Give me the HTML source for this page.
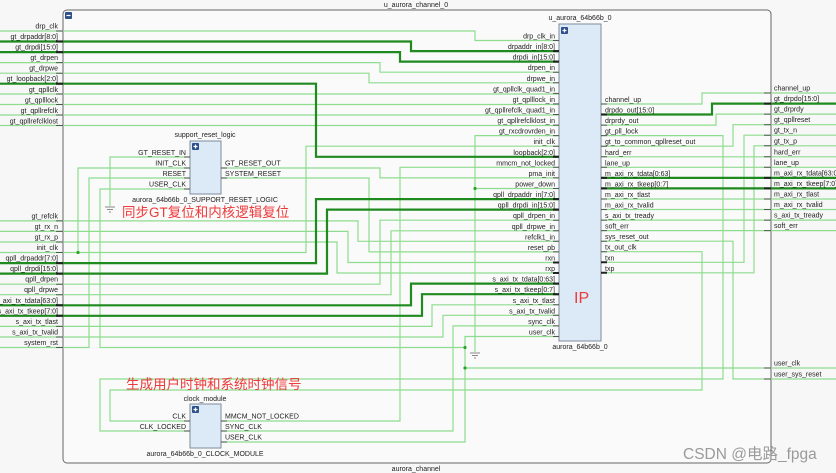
<!DOCTYPE html>
<html><head><meta charset="utf-8"><style>
html,body{margin:0;padding:0;background:#f7f7f7;}
svg{display:block;}
text{font-family:"Liberation Sans","Noto Sans CJK SC",sans-serif;font-size:7px;fill:#222;}
.e{text-anchor:end;}
.m{text-anchor:middle;}
.w{fill:none;stroke:#8edc8e;stroke-width:1.2;}
.b{fill:none;stroke:#1f8a1f;stroke-width:2.2;}
.t{stroke:#555;stroke-width:1;}
.tb{stroke:#222;stroke-width:2;}
.red{font-size:13.5px;fill:#ee3a3a;}
</style></head><body>
<svg width="836" height="473" viewBox="0 0 836 473" xmlns="http://www.w3.org/2000/svg">
<rect x="0" y="0" width="836" height="473" fill="#f7f7f7"/>
<rect x="63" y="10" width="708" height="453" rx="4" fill="#fafafa" stroke="#666" stroke-width="1"/>
<text x="416" y="7" class="m">u_aurora_channel_0</text>
<text x="416" y="471" class="m">aurora_channel</text>
<rect x="65" y="12" width="7" height="7" rx="1" fill="#2d4f8a"/>
<line x1="66.5" y1="15.5" x2="70.5" y2="15.5" stroke="#fff" stroke-width="1.2"/>

<path class="w" d="M0 31H475V40.5H559"/>
<path class="w" d="M0 62.6H380V72.2H559"/>
<path class="w" d="M0 73.2H369V82.8H559"/>
<path class="w" d="M0 94H559M0 104.5H559M0 115H559M0 125.5H559"/>
<path class="w" d="M559 135.6H475V352M475 188.5H559"/>
<path class="w" d="M0 252.5H306V146.2H559"/>
<path class="w" d="M190 168H78V252.5"/>
<path class="w" d="M190 157H110V206"/>
<path class="w" d="M190 178H89V347.5H0"/>
<path class="w" d="M190 189H100V347.5H465"/>
<path class="w" d="M221 168H380V177.9H559"/>
<path class="w" d="M221 178H369V251.9H559"/>
<path class="w" d="M559 167.3H400V421H221"/>
<path class="w" d="M0 220.9H358V241.3H559"/>
<path class="w" d="M0 231.4H348V262.5H559"/>
<path class="w" d="M0 242H337V273H559"/>
<path class="w" d="M0 284.2H380V220.2H559"/>
<path class="w" d="M0 294.7H391V230.8H559"/>
<path class="w" d="M0 326.4H432V304.8H559"/>
<path class="w" d="M0 337H443V315.3H559"/>
<path class="w" d="M559 325.9H453V431H221"/>
<path class="w" d="M559 336.5H465V442H221M465 368H836"/>
<path class="w" d="M190 421H110V390H702V251.7H601"/>
<path class="w" d="M190 431H100V379H723V135.6H601"/>
<path class="w" d="M601 241.2H733V379H836"/>
<path class="w" d="M601 104H702V93H836"/>
<path class="w" d="M601 125.1H716V114.1H836"/>
<path class="w" d="M601 146.2H733V124.7H836"/>
<path class="w" d="M601 262.3H744V135.2H836"/>
<path class="w" d="M601 272.8H754V145.8H836"/>
<path class="w" d="M601 156.8H836M601 167.3H836M601 199H836M601 209.5H836M601 220.1H836M601 230.6H836"/>
<path class="b" d="M0 41.5H411V51.1H559"/>
<path class="b" d="M0 52.1H400V61.6H559"/>
<path class="b" d="M0 83.7H316V156.8H559"/>
<path class="b" d="M0 263.1H316V199.1H559"/>
<path class="b" d="M0 273.6H327V209.6H559"/>
<path class="b" d="M0 305.3H411V283.6H559"/>
<path class="b" d="M0 315.8H422V294.2H559"/>
<path class="b" d="M601 114.5H712V103.6H836"/>
<path class="b" d="M601 177.9H836M601 188.4H836"/>
<g fill="#2aa52a"><circle cx="78" cy="252.5" r="1.6"/><circle cx="475" cy="188.5" r="1.6"/><circle cx="465" cy="347.5" r="1.6"/><circle cx="465" cy="368" r="1.6"/></g>
<g stroke="#888" stroke-width="1"><line x1="105" y1="207" x2="115" y2="207"/><line x1="107" y1="209.5" x2="113" y2="209.5"/><line x1="109" y1="212" x2="111" y2="212"/>
<line x1="470" y1="353" x2="480" y2="353"/><line x1="472" y1="355.5" x2="478" y2="355.5"/><line x1="474" y1="358" x2="476" y2="358"/></g>

<g class="t"><path d="M56 31H63M56 62.6H63M56 73.2H63M56 94H63M56 104.5H63M56 115H63M56 125.5H63M56 220.9H63M56 231.4H63M56 242H63M56 252.5H63M56 284.2H63M56 294.7H63M56 326.4H63M56 337H63M56 347.5H63"/></g>
<g class="tb"><path d="M56 41.5H63M56 52.1H63M56 83.7H63M56 263.1H63M56 273.6H63M56 305.3H63M56 315.8H63"/></g>
<g class="t"><path d="M764 93H771M764 114.1H771M764 124.7H771M764 135.2H771M764 145.8H771M764 156.8H771M764 167.3H771M764 199H771M764 209.5H771M764 220.1H771M764 230.6H771M764 368H771M764 379H771"/></g>
<g class="tb"><path d="M764 103.6H771M764 177.9H771M764 188.4H771"/></g>

<text x="58" y="28.5" class="e">drp_clk</text>
<text x="58" y="39" class="e">gt_drpaddr[8:0]</text>
<text x="58" y="49.6" class="e">gt_drpdi[15:0]</text>
<text x="58" y="60.1" class="e">gt_drpen</text>
<text x="58" y="70.7" class="e">gt_drpwe</text>
<text x="58" y="81.2" class="e">gt_loopback[2:0]</text>
<text x="58" y="91.8" class="e">gt_qpllclk</text>
<text x="58" y="102.3" class="e">gt_qplllock</text>
<text x="58" y="112.9" class="e">gt_qpllrefclk</text>
<text x="58" y="123.5" class="e">gt_qpllrefclklost</text>
<text x="58" y="218.4" class="e">gt_refclk</text>
<text x="58" y="228.9" class="e">gt_rx_n</text>
<text x="58" y="239.5" class="e">gt_rx_p</text>
<text x="58" y="250" class="e">init_clk</text>
<text x="58" y="260.6" class="e">qpll_drpaddr[7:0]</text>
<text x="58" y="271.1" class="e">qpll_drpdi[15:0]</text>
<text x="58" y="281.7" class="e">qpll_drpen</text>
<text x="58" y="292.2" class="e">qpll_drpwe</text>
<text x="58" y="302.8" class="e">s_axi_tx_tdata[63:0]</text>
<text x="58" y="313.3" class="e">s_axi_tx_tkeep[7:0]</text>
<text x="58" y="323.9" class="e">s_axi_tx_tlast</text>
<text x="58" y="334.5" class="e">s_axi_tx_tvalid</text>
<text x="58" y="345" class="e">system_rst</text>
<text x="774" y="90.5">channel_up</text>
<text x="774" y="101.1">gt_drpdo[15:0]</text>
<text x="774" y="111.6">gt_drprdy</text>
<text x="774" y="122.2">gt_qpllreset</text>
<text x="774" y="132.7">gt_tx_n</text>
<text x="774" y="143.3">gt_tx_p</text>
<text x="774" y="154.3">hard_err</text>
<text x="774" y="164.8">lane_up</text>
<text x="774" y="175.4">m_axi_rx_tdata[63:0]</text>
<text x="774" y="185.9">m_axi_rx_tkeep[7:0]</text>
<text x="774" y="196.5">m_axi_rx_tlast</text>
<text x="774" y="207">m_axi_rx_tvalid</text>
<text x="774" y="217.6">s_axi_tx_tready</text>
<text x="774" y="228.1">soft_err</text>
<text x="774" y="365.5">user_clk</text>
<text x="774" y="376.5">user_sys_reset</text>

<rect x="559" y="24" width="42" height="317" fill="#dce9f7" stroke="#7e8a98" stroke-width="1"/>
<rect x="561" y="27" width="7" height="7" rx="1" fill="#2d4f8a"/>
<path d="M562.5 30.5H566.5M564.5 28.5V32.5" stroke="#fff" stroke-width="1.2"/>
<text x="580" y="20" class="m">u_aurora_64b66b_0</text>
<text x="580" y="349" class="m">aurora_64b66b_0</text>
<text x="574" y="303" style="font-size:16px;fill:#ee3a3a">IP</text>
<g class="t"><path d="M553 40.5H559M553 72.2H559M553 82.8H559M553 93.4H559M553 103.9H559M553 114.5H559M553 125.1H559M553 135.6H559M553 146.2H559M553 167.3H559M553 177.9H559M553 188.5H559M553 220.2H559M553 230.8H559M553 241.3H559M553 251.9H559M553 304.8H559M553 315.3H559M553 325.9H559M553 336.5H559"/>
<path d="M601 104H607M601 125.1H607M601 135.6H607M601 146.2H607M601 156.8H607M601 167.3H607M601 199H607M601 209.5H607M601 220.1H607M601 230.6H607M601 241.2H607M601 251.7H607"/></g>
<g class="tb"><path d="M553 51.1H559M553 61.6H559M553 156.8H559M553 199.1H559M553 209.6H559M553 262.5H559M553 273H559M553 283.6H559M553 294.2H559"/>
<path d="M601 114.5H607M601 177.9H607M601 188.4H607M601 262.3H607M601 272.8H607"/></g>
<text x="555" y="38.5" class="e">drp_clk_in</text>
<text x="555" y="49.1" class="e">drpaddr_in[8:0]</text>
<text x="555" y="59.6" class="e">drpdi_in[15:0]</text>
<text x="555" y="70.2" class="e">drpen_in</text>
<text x="555" y="80.8" class="e">drpwe_in</text>
<text x="555" y="91.4" class="e">gt_qpllclk_quad1_in</text>
<text x="555" y="101.9" class="e">gt_qplllock_in</text>
<text x="555" y="112.5" class="e">gt_qpllrefclk_quad1_in</text>
<text x="555" y="123.1" class="e">gt_qpllrefclklost_in</text>
<text x="555" y="133.6" class="e">gt_rxcdrovrden_in</text>
<text x="555" y="144.2" class="e">init_clk</text>
<text x="555" y="154.8" class="e">loopback[2:0]</text>
<text x="555" y="165.3" class="e">mmcm_not_locked</text>
<text x="555" y="175.9" class="e">pma_init</text>
<text x="555" y="186.5" class="e">power_down</text>
<text x="555" y="197.1" class="e">qpll_drpaddr_in[7:0]</text>
<text x="555" y="207.6" class="e">qpll_drpdi_in[15:0]</text>
<text x="555" y="218.2" class="e">qpll_drpen_in</text>
<text x="555" y="228.8" class="e">qpll_drpwe_in</text>
<text x="555" y="239.3" class="e">refclk1_in</text>
<text x="555" y="249.9" class="e">reset_pb</text>
<text x="555" y="260.5" class="e">rxn</text>
<text x="555" y="271" class="e">rxp</text>
<text x="555" y="281.6" class="e">s_axi_tx_tdata[0:63]</text>
<text x="555" y="292.2" class="e">s_axi_tx_tkeep[0:7]</text>
<text x="555" y="302.8" class="e">s_axi_tx_tlast</text>
<text x="555" y="313.3" class="e">s_axi_tx_tvalid</text>
<text x="555" y="323.9" class="e">sync_clk</text>
<text x="555" y="334.5" class="e">user_clk</text>
<text x="605" y="102">channel_up</text>
<text x="605" y="112.5">drpdo_out[15:0]</text>
<text x="605" y="123.1">drprdy_out</text>
<text x="605" y="133.6">gt_pll_lock</text>
<text x="605" y="144.2">gt_to_common_qpllreset_out</text>
<text x="605" y="154.8">hard_err</text>
<text x="605" y="165.3">lane_up</text>
<text x="605" y="175.9">m_axi_rx_tdata[0:63]</text>
<text x="605" y="186.4">m_axi_rx_tkeep[0:7]</text>
<text x="605" y="197">m_axi_rx_tlast</text>
<text x="605" y="207.5">m_axi_rx_tvalid</text>
<text x="605" y="218.1">s_axi_tx_tready</text>
<text x="605" y="228.6">soft_err</text>
<text x="605" y="239.2">sys_reset_out</text>
<text x="605" y="249.7">tx_out_clk</text>
<text x="605" y="260.3">txn</text>
<text x="605" y="270.8">txp</text>

<rect x="190" y="141" width="31" height="53" fill="#dce9f7" stroke="#7e8a98"/>
<rect x="192" y="143" width="7" height="7" rx="1" fill="#2d4f8a"/>
<path d="M193.5 146.5H197.5M195.5 144.5V148.5" stroke="#fff" stroke-width="1.2"/>
<text x="205" y="137" class="m">support_reset_logic</text>
<text x="205" y="202" class="m">aurora_64b66b_0_SUPPORT_RESET_LOGIC</text>
<g class="t"><path d="M184 157H190M184 168H190M184 178H190M184 189H190M221 168H227M221 178H227"/></g>
<text x="186" y="155" class="e">GT_RESET_IN</text>
<text x="186" y="165.5" class="e">INIT_CLK</text>
<text x="186" y="176" class="e">RESET</text>
<text x="186" y="186.5" class="e">USER_CLK</text>
<text x="225" y="165.5">GT_RESET_OUT</text>
<text x="225" y="176">SYSTEM_RESET</text>
<text x="122" y="217" class="red">同步GT复位和内核逻辑复位</text>

<rect x="190" y="404" width="31" height="44" fill="#dce9f7" stroke="#7e8a98"/>
<rect x="192" y="406" width="7" height="7" rx="1" fill="#2d4f8a"/>
<path d="M193.5 409.5H197.5M195.5 407.5V411.5" stroke="#fff" stroke-width="1.2"/>
<text x="205" y="401" class="m">clock_module</text>
<text x="205" y="456" class="m">aurora_64b66b_0_CLOCK_MODULE</text>
<g class="t"><path d="M184 421H190M184 431H190M221 421H227M221 431H227M221 442H227"/></g>
<text x="186" y="418.5" class="e">CLK</text>
<text x="186" y="429" class="e">CLK_LOCKED</text>
<text x="225" y="418.5">MMCM_NOT_LOCKED</text>
<text x="225" y="429">SYNC_CLK</text>
<text x="225" y="439.5">USER_CLK</text>
<text x="126" y="389" class="red">生成用户时钟和系统时钟信号</text>

<text x="683" y="459" style="font-size:15.5px;fill:#9a9a9a">CSDN @电路_fpga</text>
</svg>
</body></html>
